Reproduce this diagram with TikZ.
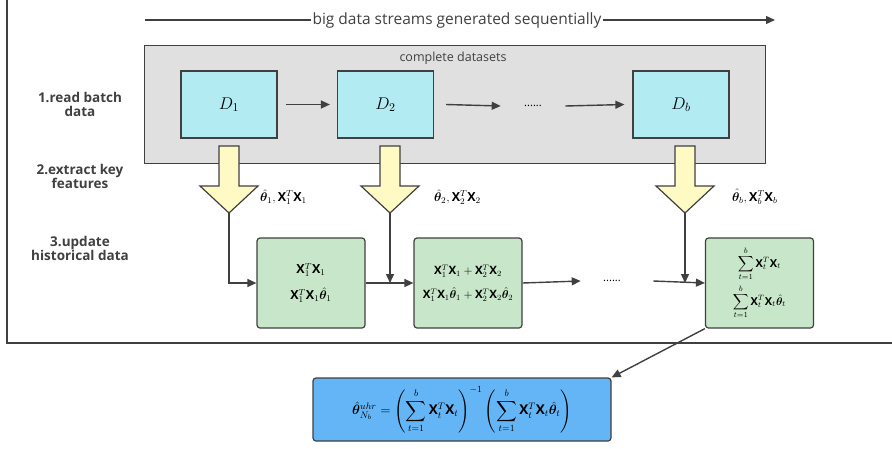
\RequirePackage{fix-cm}
\documentclass[tikz,border=0pt]{standalone}
\usepackage{amsmath,bm}
\usepackage{fontspec}
\setmainfont{Open Sans}
\usetikzlibrary{arrows.meta}
\definecolor{lc}{HTML}{404040}
\definecolor{grayfill}{HTML}{E0E0E0}
\definecolor{cyanfill}{HTML}{B2EBF2}
\definecolor{yelfill}{HTML}{FFF9C4}
\definecolor{greenfill}{HTML}{C8E6C9}
\definecolor{bluefill}{HTML}{64B5F6}
\newcommand{\thh}{\hat{\bm{\theta}}}
\newcommand{\XX}{\mathbf{X}}
\tikzset{
  conn/.style={draw=lc, line width=1.4pt, -{Triangle[length=9pt,width=8pt]}},
  dbox/.style={draw=lc, line width=1.2pt, fill=cyanfill, minimum width=96pt, minimum height=67pt, font=\fontsize{17}{20}\selectfont},
  gbox/.style={draw=lc, line width=1.2pt, fill=greenfill, rounded corners=3pt, minimum width=108pt, minimum height=90pt, font=\fontsize{12.5}{15}\selectfont, align=center},
  steplabel/.style={font=\bfseries\fontsize{13.5}{16}\selectfont, text=lc, align=center},
  featlabel/.style={font=\fontsize{12.5}{15}\selectfont, anchor=west, inner sep=1pt},
  blockarrow/.style={draw=lc, line width=1.2pt, fill=yelfill}
}
\begin{document}
\begin{tikzpicture}[x=1pt,y=-1pt]
\useasboundingbox (0,0) rectangle (892,448);
% outer frame
\draw[lc, line width=1.2pt] (7,-2) -- (7,343) -- (894,343);
% top arrow
\node[font=\fontsize{15.5}{18}\selectfont, text=lc, inner sep=1pt] (stream) at (457,20) {big data streams generated sequentially};
\coordinate (s0) at (145,20);
\coordinate (s1) at (775,20);
\draw[lc, line width=1.2pt] (s0) -- (stream.west);
\draw[conn, line width=1.2pt] (stream.east) -- (s1);
% gray box
\node[draw=lc, line width=1.2pt, fill=grayfill, minimum width=621pt, minimum height=118pt, anchor=north west] (gray) at (144,45) {};
\node[font=\fontsize{12.5}{15}\selectfont, text=lc] (complete) at (453,58) {complete datasets};
% D boxes
\node[dbox] (d1) at (229,104.5) {$D_1$};
\node[dbox] (d2) at (385.5,104.5) {$D_2$};
\node[dbox] (db) at (681,104.5) {$D_b$};
\node[font=\fontsize{11}{13}\selectfont] (dots1) at (533,106) {......};
\draw[conn] ([xshift=8pt]d1.east) -- ([xshift=-7pt]d2.west);
\draw[conn] ([xshift=12pt]d2.east) -- ([xshift=-20pt]dots1.west);
\draw[conn] ([xshift=20pt]dots1.east) -- ([xshift=-8pt]db.west);
% left labels
\node[steplabel] (l1) at (80,104) {1.read batch\\[-2pt]data};
\node[steplabel] (l2) at (80,176) {2.extract key\\[-2pt]features};
\node[steplabel] (l3) at (80,248) {3.update\\[-2pt]historical data};
% block arrows
\foreach \cx/\nm in {229/t1, 390/t2, 685/tb}{
  \draw[blockarrow] (\cx-10,146) -- (\cx+10,146) -- (\cx+10,186) -- (\cx+29,186) -- (\cx,213) -- (\cx-29,186) -- (\cx-10,186) -- cycle;
  \coordinate (\nm) at (\cx,213);
}
\node[featlabel] (f1) at (259,197) {$\thh_1,\XX_1^T\XX_1$};
\node[featlabel] (f2) at (433,197) {$\thh_2,\XX_2^T\XX_2$};
\node[featlabel] (fb) at (731,197) {$\thh_b,\XX_b^T\XX_b$};
% green boxes
\node[gbox] (g1) at (311,283) {$\XX_1^T\XX_1$\\[10pt]$\XX_1^T\XX_1\thh_1$};
\node[gbox, font=\fontsize{11.5}{14}\selectfont] (g2) at (468,283) {$\XX_1^T\XX_1+\XX_2^T\XX_2$\\[10pt]$\XX_1^T\XX_1\thh_1+\XX_2^T\XX_2\thh_2$};
\node[gbox, font=\fontsize{11}{13}\selectfont] (gb) at (759.5,283) {$\displaystyle\sum_{t=1}^{b}\XX_t^T\XX_t$\\[3pt]$\displaystyle\sum_{t=1}^{b}\XX_t^T\XX_t\thh_t$};
\node[font=\fontsize{11}{13}\selectfont] (dots2) at (612,281) {......};
% connectors
\draw[conn] (t1) |- (g1.west);
\draw[conn] (g1.east) -- (g2.west);
\draw[conn] (t2) -- (t2 |- g2.west);
\draw[conn] (g2.east) -- ([xshift=-19pt]dots2.west);
\draw[conn] ([xshift=29pt]dots2.east) -- (gb.west);
\draw[conn] (tb) -- (tb |- gb.west);
% result box
\node[draw=lc, line width=1.2pt, fill=bluefill, rounded corners=3pt, minimum width=298pt, minimum height=63pt, font=\fontsize{13.5}{16}\selectfont] (res) at (462,409.5) {$\thh_{N_b}^{uhr}=\left(\displaystyle\sum_{t=1}^{b}\XX_t^T\XX_t\right)^{-1}\left(\displaystyle\sum_{t=1}^{b}\XX_t^T\XX_t\thh_t\right)$};
\draw[conn] (gb.south west) -- (res.north east);
\end{tikzpicture}
\end{document}
